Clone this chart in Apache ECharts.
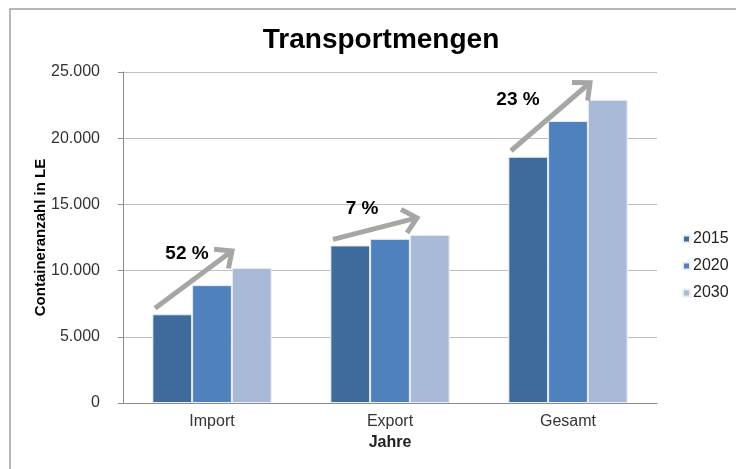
<!DOCTYPE html>
<html>
<head>
<meta charset="utf-8">
<script src="https://cdn.jsdelivr.net/npm/echarts@6/dist/echarts.min.js"></script>
<style>
html,body{margin:0;padding:0;background:#fff;}
#chart{width:736px;height:469px;}
</style>
</head>
<body>
<div id="chart"></div>
<script>
// ---- data ----
var categories = ['Import', 'Export', 'Gesamt'];
var years = ['2015', '2020', '2030'];
var values2015 = [6700, 11900, 18600];
var values2020 = [8900, 12400, 21300];
var values2030 = [10200, 12700, 22900];
var growthLabels = ['52 %', '7 %', '23 %'];
var yTicks = [0, 5000, 10000, 15000, 20000, 25000];

// ---- styling / layout (not data) ----
var colors = ['#3E6A9C', '#4F81BD', '#A9B9D8'];
var FONT = '"Liberation Sans", Arial, sans-serif';
// label offsets (px) relative to category centre and 2030 bar top
var labelOffsets = [[-25, -14], [-28, -26], [-50, 0]];
// arrow end x offsets (px) relative to category centre
var arrowEndDx = [20, 27, 22];

function fmt(v) {
  return String(v).replace(/\B(?=(\d{3})+(?!\d))/g, '.');
}

var chart = echarts.init(document.getElementById('chart'), null, {renderer: 'canvas'});

var arrowData = categories.map(function (c, i) {
  return [i, values2015[i], values2030[i]];
});

function renderArrow(params, api) {
  var idx = api.value(0);
  var p0 = api.coord([idx, api.value(1)]);
  var p1 = api.coord([idx, api.value(2)]);
  var cx = p0[0];
  var sx = cx - 57, sy = p0[1] - 6;
  var ex = cx + arrowEndDx[idx], ey = p1[1] - 17;
  var ang = Math.atan2(ey - sy, ex - sx);
  var hl = 18, ha = Math.PI / 4.3;
  var lx = ex - Math.cos(ang) * 3, ly = ey - Math.sin(ang) * 3;
  var h1 = [ex - hl * Math.cos(ang - ha), ey - hl * Math.sin(ang - ha)];
  var h2 = [ex - hl * Math.cos(ang + ha), ey - hl * Math.sin(ang + ha)];
  var off = labelOffsets[idx];
  return {
    type: 'group',
    children: [
      {
        type: 'line',
        shape: {x1: sx, y1: sy, x2: lx, y2: ly},
        style: {stroke: '#A6A6A6', lineWidth: 5, lineCap: 'butt'}
      },
      {
        type: 'polyline',
        shape: {points: [h1, [ex, ey], h2]},
        style: {stroke: '#A6A6A6', lineWidth: 5, fill: null, lineJoin: 'miter', lineCap: 'butt'}
      },
      {
        type: 'text',
        x: cx + off[0],
        y: p1[1] + off[1],
        style: {
          text: growthLabels[idx],
          fill: '#000',
          font: 'bold 19px ' + FONT,
          align: 'center',
          verticalAlign: 'middle'
        }
      }
    ]
  };
}

var barSeries = [values2015, values2020, values2030].map(function (vals, i) {
  return {
    name: years[i],
    type: 'bar',
    data: vals,
    barGap: '0%',
    barCategoryGap: '33%',
    itemStyle: {color: colors[i], borderColor: '#E9EDF4', borderWidth: 1},
    emphasis: {disabled: true}
  };
});

chart.setOption({
  animation: false,
  backgroundColor: '#fff',
  textStyle: {fontFamily: FONT},
  title: {
    text: 'Transportmengen',
    left: 376,
    textAlign: 'center',
    top: 21,
    textStyle: {fontSize: 28, fontWeight: 'bold', color: '#000', fontFamily: FONT}
  },
  legend: {
    orient: 'vertical',
    left: 677,
    top: 226,
    itemWidth: 7,
    itemHeight: 7,
    itemGap: 11,
    icon: 'rect',
    data: years,
    textStyle: {fontSize: 16, color: '#222', fontFamily: FONT, padding: [0, 0, 0, -2]}
  },
  grid: {left: 123, right: 79, top: 72, bottom: 66, containLabel: false},
  xAxis: {
    type: 'category',
    data: categories,
    name: 'Jahre',
    nameLocation: 'middle',
    nameGap: 32,
    nameTextStyle: {fontSize: 16, fontWeight: 'bold', color: '#222', fontFamily: FONT},
    axisLine: {lineStyle: {color: '#8C8C8C', width: 1}},
    axisTick: {show: false},
    axisLabel: {fontSize: 16, color: '#333', margin: 11, fontFamily: FONT}
  },
  yAxis: {
    type: 'value',
    min: 0,
    max: 25000,
    interval: 5000,
    name: 'Containeranzahl in LE',
    nameLocation: 'middle',
    nameGap: 75,
    nameMoveOverlap: false,
    nameTextStyle: {fontSize: 15, fontWeight: 'bold', color: '#000', fontFamily: FONT},
    axisLine: {show: true, lineStyle: {color: '#8C8C8C', width: 1}},
    axisTick: {show: true, inside: false, length: 5, lineStyle: {color: '#8C8C8C'}},
    splitLine: {lineStyle: {color: '#C0C0C0', width: 1}},
    axisLabel: {
      fontSize: 16, color: '#333', margin: 23, fontFamily: FONT,
      formatter: function (v) { return yTicks.indexOf(v) >= 0 ? fmt(v) : ''; }
    }
  },
  graphic: [{
    type: 'rect',
    shape: {x: 10, y: 9, width: 760, height: 500},
    style: {fill: null, stroke: '#A0A0A0', lineWidth: 1.5},
    silent: true,
    z: 100
  }],
  series: barSeries.concat([{
    type: 'custom',
    name: 'arrows',
    renderItem: renderArrow,
    data: arrowData,
    z: 10,
    silent: true,
    clip: false
  }])
});
</script>
</body>
</html>
